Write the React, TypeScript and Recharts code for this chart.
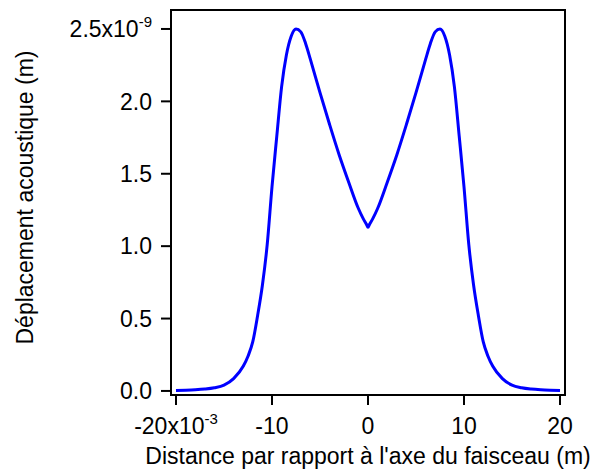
import React from 'react';
import {
  LineChart,
  Line,
  XAxis,
  YAxis,
  ReferenceArea,
  Label,
} from 'recharts';

// distance from beam axis (x 1e-3 m)
const distance = [
  -20, -19, -18, -17, -16, -15, -14, -13, -12.5, -12, -11.5, -11, -10.5, -10,
  -9.5, -9, -8.5, -8, -7.5, -7, -6.5, -6, -5, -4, -3, -2, -1, -0.5, -0.15, 0,
  0.15, 0.5, 1, 2, 3, 4, 5, 6, 6.5, 7, 7.5, 8, 8.5, 9, 9.5, 10, 10.5, 11, 11.5, 12,
  12.5, 13, 14, 15, 16, 17, 18, 19, 20,
];

// acoustic displacement (x 1e-9 m)
const displacement = [
  0.003, 0.005, 0.008, 0.013, 0.022, 0.04, 0.085, 0.17, 0.24, 0.34, 0.52, 0.73, 1.01, 1.41,
  1.76, 2.1, 2.32, 2.45, 2.5, 2.48, 2.4, 2.29, 2.06, 1.84, 1.63, 1.44, 1.26, 1.19, 1.15, 1.13,
  1.15, 1.19, 1.26, 1.44, 1.63, 1.84, 2.06, 2.29, 2.4, 2.48, 2.5, 2.45, 2.32, 2.1, 1.76, 1.41,
  1.01, 0.73, 0.52, 0.34, 0.24, 0.17, 0.085, 0.04, 0.022, 0.013, 0.008, 0.005, 0.003,
];

const xTicks = [-20, -10, 0, 10, 20];
const yTicks = [0, 0.5, 1, 1.5, 2, 2.5];

const data = distance.map((x, i) => ({ x, y: displacement[i] }));

const FONT = 'Liberation Sans, Arial, sans-serif';
const FS = 23;

function XTick(props: any) {
  const { x, y, payload } = props;
  const v = payload.value;
  return (
    <text x={x} y={y} dy="0.71em" textAnchor="middle" fontFamily={FONT} fontSize={FS} fill="#000">
      {v === -20 ? (
        <>
          <tspan>-20x10</tspan>
          <tspan fontSize={15} dy={-10}>-3</tspan>
        </>
      ) : (
        String(v)
      )}
    </text>
  );
}

function YTick(props: any) {
  const { x, y, payload } = props;
  const v = payload.value;
  return (
    <text x={x} y={y} dy="0.355em" textAnchor="end" fontFamily={FONT} fontSize={FS} fill="#000">
      {v === 2.5 ? (
        <>
          <tspan>2.5x10</tspan>
          <tspan fontSize={15} dy={-10}>-9</tspan>
        </>
      ) : (
        v.toFixed(1)
      )}
    </text>
  );
}

export default function App() {
  return (
    <div style={{ position: 'absolute', left: 0, top: 0, width: 591, height: 470, background: '#fff' }}>
      <LineChart
        width={591}
        height={470}
        data={data}
        margin={{ top: 10, right: 26, left: 0, bottom: 0 }}
      >
        <XAxis
          dataKey="x"
          type="number"
          domain={[-20.52, 20.52]}
          ticks={xTicks}
          allowDataOverflow
          height={75}
          tickSize={10}
          tickMargin={13}
          tick={<XTick />}
          axisLine={{ stroke: '#000', strokeWidth: 2 }}
          tickLine={{ stroke: '#000', strokeWidth: 2 }}
        >
          <Label
            value="Distance par rapport à l'axe du faisceau (m)"
            position="insideBottom"
            offset={6}
            style={{ fontFamily: FONT, fontSize: FS, fill: '#000' }}
          />
        </XAxis>
        <YAxis
          type="number"
          domain={[-0.028, 2.631]}
          ticks={yTicks}
          allowDataOverflow
          width={171}
          tickSize={10}
          tickMargin={9}
          tick={<YTick />}
          axisLine={{ stroke: '#000', strokeWidth: 2 }}
          tickLine={{ stroke: '#000', strokeWidth: 2 }}
        >
          <Label
            value="Déplacement acoustique (m)"
            angle={-90}
            position="insideLeft"
            offset={25}
            dy={-5}
            style={{ fontFamily: FONT, fontSize: FS, fill: '#000', textAnchor: 'middle' }}
          />
        </YAxis>
        <ReferenceArea
          x1={-20.52}
          x2={20.52}
          y1={-0.028}
          y2={2.631}
          fill="none"
          fillOpacity={0}
          stroke="#000"
          strokeWidth={2}
          ifOverflow="extendDomain"
        />
        <Line
          dataKey="y"
          type="monotone"
          stroke="#0000ff"
          strokeWidth={3}
          dot={false}
          isAnimationActive={false}
        />
      </LineChart>
    </div>
  );
}
